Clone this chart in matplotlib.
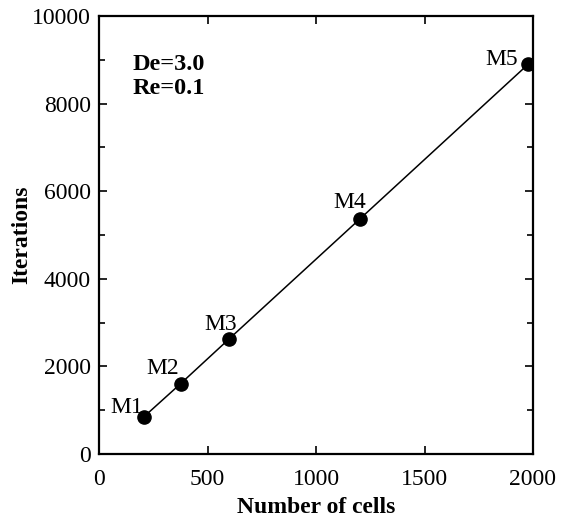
import matplotlib
matplotlib.use("Agg")
import matplotlib.pyplot as plt
from matplotlib.ticker import MultipleLocator

cells = [207, 376, 599, 1203, 1978]
iterations = [850, 1605, 2625, 5370, 8900]
labels = ["M1", "M2", "M3", "M4", "M5"]

plt.rcParams['font.family'] = ['Liberation Serif', 'DejaVu Serif']

fig = plt.figure(figsize=(5.61, 5.17), dpi=100)
ax = fig.add_axes([99/561, 1-454/517, 434/561, 438/517])

ax.plot(cells, iterations, color='black', lw=1.1, marker='o', ms=9.5, mfc='black', mec='black')
offsets = [(-1, 4), (-2, 10), (8, 9), (6, 11), (-10, -1)]
for x, y, t, (dx, dy) in zip(cells, iterations, labels, offsets):
    ax.annotate(t, (x, y), xytext=(dx, dy), textcoords='offset pixels',
                ha='right', va='baseline', fontsize=17)

ax.text(0.078, 0.913, "De=3.0\nRe=0.1", transform=ax.transAxes, fontsize=17.5,
        fontweight='bold', va='top', ha='left', linespacing=1.15)

ax.set_xlim(0, 2000)
ax.set_ylim(0, 10000)
ax.xaxis.set_major_locator(MultipleLocator(500))
ax.yaxis.set_major_locator(MultipleLocator(2000))
ax.yaxis.set_minor_locator(MultipleLocator(1000))
ax.tick_params(which='both', direction='in', top=True, right=True, labelsize=17,
               width=1.2)
ax.tick_params(which='major', length=6)
ax.tick_params(axis='x', which='major', pad=10.5)
ax.tick_params(axis='y', which='major', pad=6)
ax.tick_params(which='minor', length=4)
for s in ax.spines.values():
    s.set_linewidth(1.6)

ax.set_xlabel("Number of cells", fontsize=17, fontweight='bold', labelpad=5)
ax.set_ylabel("Iterations", fontsize=17, fontweight='bold', labelpad=-0.5)

fig.savefig("out.png", dpi=100)
